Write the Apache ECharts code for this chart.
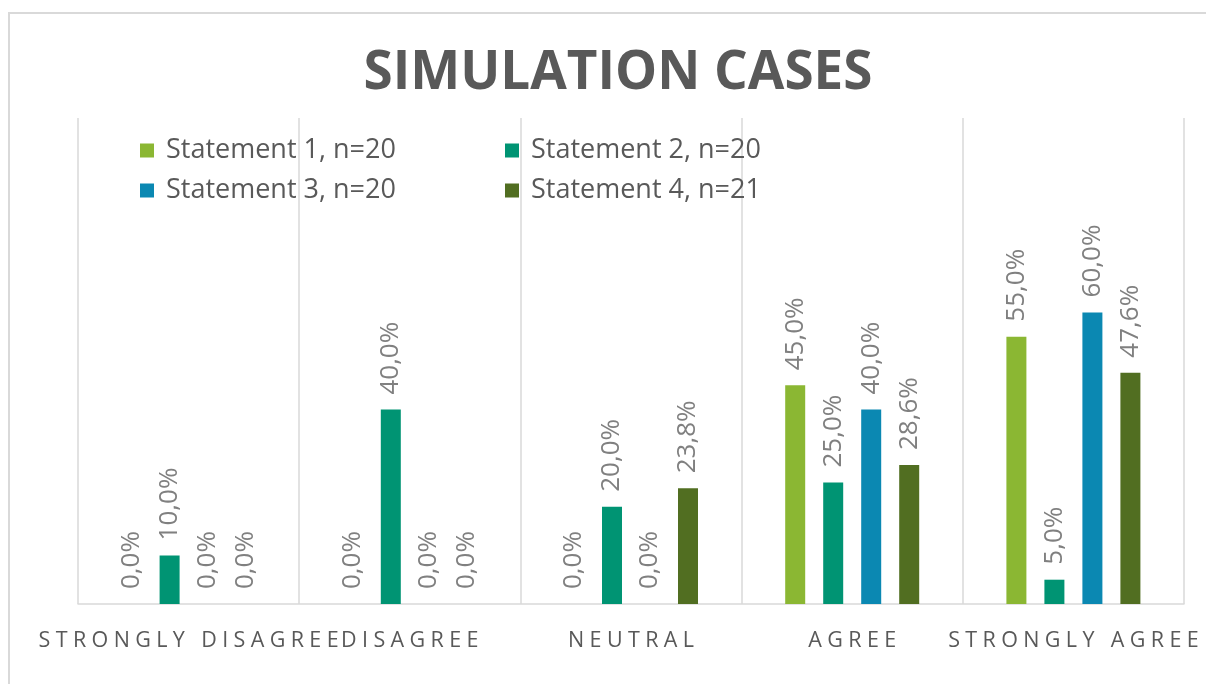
<!DOCTYPE html>
<html>
<head>
<meta charset="utf-8">
<script src="https://cdn.jsdelivr.net/npm/echarts@6/dist/echarts.min.js"></script>
<style>
  html, body { margin: 0; padding: 0; background: #fff; }
  #chart { width: 1206px; height: 684px; }
</style>
</head>
<body>
<div id="chart"></div>
<script>
// categories along the x axis
const categories = ['Strongly disagree', 'Disagree', 'Neutral', 'Agree', 'Strongly agree']
// share of answers per statement, in %
const statement1 = [0, 0, 0, 45.0, 55.0]
const statement2 = [10.0, 40.0, 20.0, 25.0, 5.0]
const statement3 = [0, 0, 0, 40.0, 60.0]
const statement4 = [0, 0, 23.8, 28.6, 47.6]
const seriesNames = ['Statement 1, n=20', 'Statement 2, n=20', 'Statement 3, n=20', 'Statement 4, n=21']
const seriesValues = [statement1, statement2, statement3, statement4]
const colors = ['#8bb733', '#009473', '#0b88b2', '#516e21']

// legend placement, two per row
const legendPos = [
  { left: 135, top: 132 },
  { left: 500, top: 132 },
  { left: 135, top: 172 },
  { left: 500, top: 172 }
]

const spaced = s => s.toUpperCase().split('').join('\u2005')
const pct = v => v.toFixed(1).replace('.', ',') + '%'

const myChart = echarts.init(document.getElementById('chart'))
const option = {
  color: colors,
  animation: false,
  textStyle: { fontFamily: 'Open Sans' },
  title: {
    text: 'SIMULATION CASES',
    left: 613,
    textAlign: 'center',
    top: 42,
    textStyle: {
      fontFamily: 'Open Sans',
      fontWeight: 'bold',
      fontSize: 53,
      color: '#595959'
    }
  },
  graphic: [{
    type: 'rect',
    silent: true,
    shape: { x: 9, y: 13, width: 1300, height: 800 },
    style: { fill: 'none', stroke: '#d9d9d9', lineWidth: 2 }
  }],
  legend: seriesNames.map((name, i) => ({
    data: [name],
    left: legendPos[i].left,
    top: legendPos[i].top,
    itemWidth: 14,
    itemHeight: 14,
    icon: 'rect',
    textStyle: {
      fontSize: 27,
      color: '#595959',
      padding: [0, 0, 0, 7]
    }
  })),
  grid: {
    left: 78,
    right: 22,
    top: 118,
    bottom: 80
  },
  xAxis: {
    type: 'category',
    data: categories,
    axisTick: { show: false },
    axisLine: { lineStyle: { color: '#d9d9d9', width: 1.5 } },
    splitLine: { show: true, lineStyle: { color: '#d9d9d9', width: 1.5 } },
    axisLabel: {
      interval: 0,
      fontSize: 21.5,
      color: '#595959',
      margin: 26,
      formatter: spaced
    }
  },
  yAxis: {
    type: 'value',
    min: 0,
    max: 100,
    show: false
  },
  series: seriesValues.map((vals, i) => ({
    name: seriesNames[i],
    type: 'bar',
    data: vals,
    barWidth: 20,
    barGap: '90%',
    label: {
      show: true,
      position: 'top',
      rotate: 90,
      align: 'left',
      verticalAlign: 'middle',
      distance: 15,
      fontSize: 26,
      color: '#808080',
      formatter: p => pct(p.value)
    }
  }))
}
myChart.setOption(option)
</script>
</body>
</html>
